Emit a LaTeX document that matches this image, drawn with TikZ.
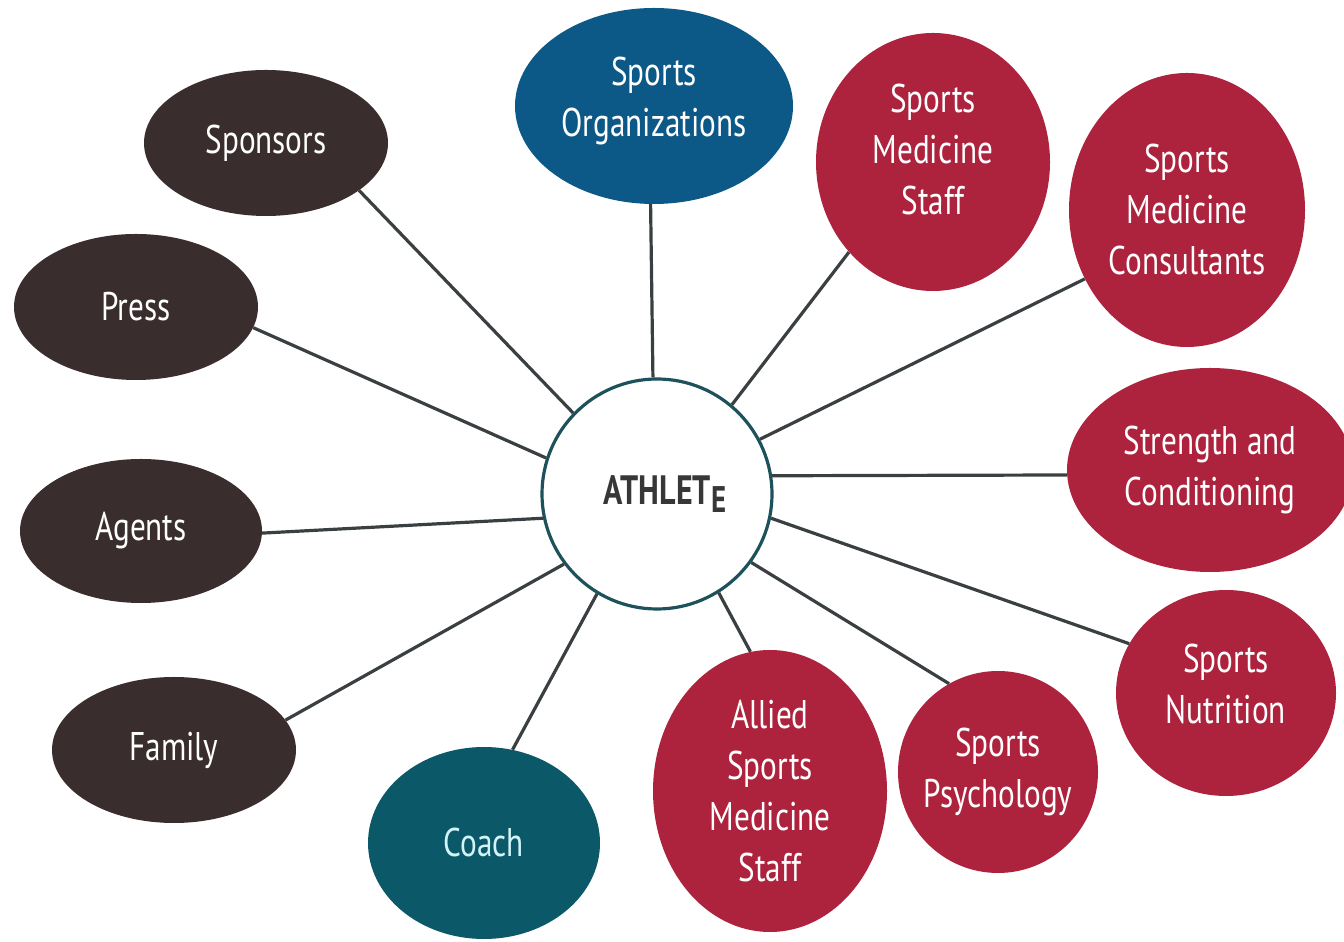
\documentclass[tikz,border=0pt]{standalone}
\usepackage{fontspec}
\setmainfont{PT Sans}[FakeStretch=0.78]
\usetikzlibrary{shapes.geometric}

\definecolor{brownnode}{RGB}{58,45,46}
\definecolor{orgblue}{RGB}{12,88,135}
\definecolor{coachteal}{RGB}{10,88,104}
\definecolor{medred}{RGB}{173,35,62}
\definecolor{linkgray}{RGB}{58,64,66}
\definecolor{rimteal}{RGB}{30,82,90}
\definecolor{titlegray}{RGB}{55,55,55}
\definecolor{coachtext}{RGB}{210,244,248}

% stacked lines shifted up by #1 pt inside a bubble, keeping the box size
\newcommand{\liftlines}[2]{\raisebox{#1pt}[\height][\depth]{\setlength{\tabcolsep}{0pt}\begin{tabular}{c}#2\end{tabular}}}

\tikzset{
  bubble/.style={ellipse, inner sep=-20pt, align=center, text=white,
    font=\fontsize{40}{51}\selectfont},
  dims/.style 2 args={minimum width=#1pt, minimum height=#2pt},
  people/.style={bubble, fill=brownnode},
  medic/.style={bubble, fill=medred},
  link/.style={draw=linkgray, line width=3.2pt},
  hub/.style={circle, draw=rimteal, line width=3.2pt, fill=white,
    minimum size=230pt, inner sep=0pt, text=titlegray,
    font=\fontsize{41}{41}\selectfont\bfseries},
}

\begin{document}
\begin{tikzpicture}[x=1pt, y=1pt]
\useasboundingbox (0,0) rectangle (1344,942);

% centre of the network
\node[hub] (athlete) at (657,448) {\hspace*{16pt}ATHLET\raisebox{-8pt}{\fontsize{37}{37}\selectfont E}};

% people around the athlete
\node[people, dims={244}{146}] (sponsors) at (266,799) {Sponsors};
\node[people, dims={244}{146}] (press)    at (136,635) {Press};
\node[people, dims={242}{144}] (agents)   at (141,411) {Agents};
\node[people, dims={244}{146}] (family)   at (174,192) {Family};
\node[bubble, fill=coachteal, text=coachtext, dims={232}{192}] (coach) at (484,99) {Coach};
\node[bubble, fill=orgblue, dims={278}{196}] (sorg) at (654,836) {\liftlines{5}{Sports\\Organizations}};

% sports medicine team
\node[medic, dims={234}{258}] (sms)       at (933,780)  {\liftlines{9}{Sports\\Medicine\\Staff}};
\node[medic, dims={236}{274}] (smc)       at (1187,732) {Sports\\Medicine\\Consultants};
\node[medic, dims={286}{204}] (strength)  at (1210,472) {Strength and\\Conditioning};
\node[medic, dims={220}{206}] (nutrition) at (1226,249) {\liftlines{5}{Sports\\Nutrition}};
\node[medic, dims={200}{202}] (psych)     at (998,170)  {Sports\\Psychology};
\node[medic, dims={234}{282}] (allied)    at (770,151)  {Allied\\Sports\\Medicine\\Staff};

% spokes
\draw[link] (athlete.92)  -- (sorg.268);
\draw[link] (athlete.136) -- (sponsors.-27);
\draw[link] (athlete.162) -- (press.-10);
\draw[link] (athlete.192) -- (agents.-1);
\draw[link] (athlete.217) -- (family.15);
\draw[link] (athlete.239) -- (coach.73);
\draw[link] (athlete.50)  -- (sms.227);
\draw[link] (athlete.28)  -- (smc.214);
\draw[link] (athlete.9)   -- (strength.182);
\draw[link] (athlete.-12) -- (nutrition.153);
\draw[link] (athlete.-36) -- (psych.119);
\draw[link] (athlete.-58) -- (allied.98);
\end{tikzpicture}
\end{document}
